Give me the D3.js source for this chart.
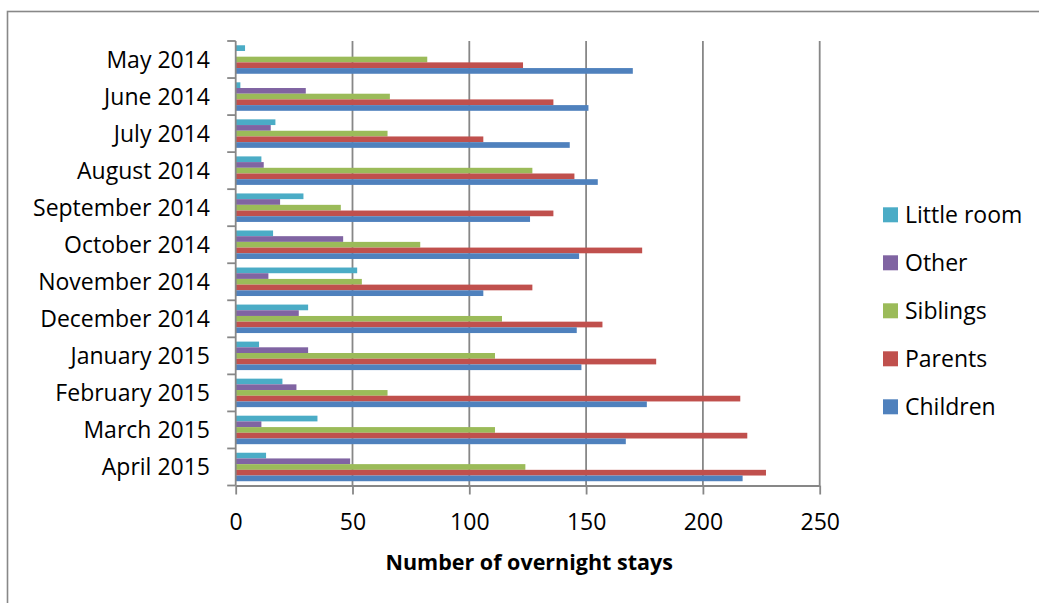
<!DOCTYPE html>
<html>
<head>
<meta charset="utf-8">
<script src="https://cdn.jsdelivr.net/npm/d3@7"></script>
<style>
  html, body { margin: 0; padding: 0; background: #fff; }
  svg { display: block; }
  text { font-family: "Open Sans", "DejaVu Sans", sans-serif; fill: #000; }
</style>
</head>
<body>
<svg id="chart" width="1039" height="603"></svg>
<script>
// Overnight stays per month, split by who stayed
const months = ["May 2014", "June 2014", "July 2014", "August 2014", "September 2014",
  "October 2014", "November 2014", "December 2014", "January 2015", "February 2015",
  "March 2015", "April 2015"];
const seriesNames = ["Little room", "Other", "Siblings", "Parents", "Children"];
const seriesColors = ["#4BACC6", "#8064A2", "#9BBB59", "#C0504D", "#4F81BD"];
const littleRoom = [4, 2, 17, 11, 29, 16, 52, 31, 10, 20, 35, 13];
const other      = [0, 30, 15, 12, 19, 46, 14, 27, 31, 26, 11, 49];
const siblings   = [82, 66, 65, 127, 45, 79, 54, 114, 111, 65, 111, 124];
const parents    = [123, 136, 106, 145, 136, 174, 127, 157, 180, 216, 219, 227];
const children   = [170, 151, 143, 155, 126, 147, 106, 146, 148, 176, 167, 217];
const xTicks = [0, 50, 100, 150, 200, 250];
const xTitle = "Number of overnight stays";

const seriesValues = [littleRoom, other, siblings, parents, children];

const svg = d3.select("#chart");
const gridColor = "#878787";

// outer chart frame (runs off the right and bottom edge)
svg.append("rect")
  .attr("x", 7.5).attr("y", 11.5)
  .attr("width", 1100).attr("height", 700)
  .attr("fill", "none").attr("stroke", "#888").attr("stroke-width", 1.6);

const plot = { left: 235.7, right: 819.7, top: 41, bottom: 485.5 };

const x = d3.scaleLinear().domain([0, 250]).range([plot.left, plot.right]);
const y = d3.scaleBand().domain(months).range([plot.top, plot.bottom]).padding(0);
const ySeries = d3.scaleBand().domain(seriesNames).range([0, y.bandwidth()])
  .paddingInner(0).paddingOuter(0.75);

// vertical gridlines
svg.append("g").selectAll("line")
  .data(xTicks.filter(d => d > 0))
  .join("line")
  .attr("x1", d => x(d)).attr("x2", d => x(d))
  .attr("y1", plot.top).attr("y2", plot.bottom)
  .attr("stroke", gridColor).attr("stroke-width", 1.8);

// bars
const barData = [];
months.forEach((m, i) => {
  seriesNames.forEach((s, j) => {
    barData.push({ month: m, series: s, value: seriesValues[j][i], color: seriesColors[j] });
  });
});
svg.append("g").selectAll("rect")
  .data(barData)
  .join("rect")
  .attr("x", x(0))
  .attr("y", d => y(d.month) + ySeries(d.series))
  .attr("width", d => x(d.value) - x(0))
  .attr("height", ySeries.bandwidth())
  .attr("fill", d => d.color);

// bottom axis
const xAxis = svg.append("g")
  .attr("transform", `translate(0,${plot.bottom})`)
  .call(d3.axisBottom(x).tickValues(xTicks).tickSize(9).tickSizeOuter(0));
xAxis.select(".domain").attr("stroke", gridColor).attr("stroke-width", 1.8);
xAxis.selectAll(".tick line").attr("stroke", gridColor).attr("stroke-width", 1.8);
xAxis.selectAll(".tick text")
  .attr("y", 44).attr("dy", null)
  .style("font-size", "23px")
  .style("font-family", "'Open Sans', sans-serif")
  .attr("fill", "#000");

// left axis with ticks at category boundaries
const yAxis = svg.append("g");
yAxis.append("line")
  .attr("x1", plot.left).attr("x2", plot.left)
  .attr("y1", plot.top).attr("y2", plot.bottom)
  .attr("stroke", gridColor).attr("stroke-width", 1.8);
const boundaries = months.map(m => y(m)).concat([y.range()[1]]);
yAxis.selectAll("line.tick")
  .data(boundaries)
  .join("line")
  .attr("class", "tick")
  .attr("x1", plot.left - 8.5).attr("x2", plot.left)
  .attr("y1", d => d).attr("y2", d => d)
  .attr("stroke", gridColor).attr("stroke-width", 1.8);
yAxis.selectAll("text")
  .data(months)
  .join("text")
  .attr("x", 210)
  .attr("y", d => y(d) + y.bandwidth() / 2 + 8)
  .attr("text-anchor", "end")
  .style("font-size", "23px")
  .text(d => d);

// axis title
svg.append("text")
  .attr("x", (plot.left + plot.right) / 2 + 1.5)
  .attr("y", 570)
  .attr("text-anchor", "middle")
  .style("font-size", "21.5px")
  .style("font-weight", "bold")
  .text(xTitle);

// legend
const legend = svg.append("g").selectAll("g")
  .data(seriesNames)
  .join("g")
  .attr("transform", (d, i) => `translate(883,${214.8 + i * 48})`);
legend.append("rect")
  .attr("x", 0).attr("y", -7.5)
  .attr("width", 15).attr("height", 15)
  .attr("fill", (d, i) => seriesColors[i]);
legend.append("text")
  .attr("x", 22).attr("y", 8.5)
  .style("font-size", "23px")
  .text(d => d);
</script>
</body>
</html>
